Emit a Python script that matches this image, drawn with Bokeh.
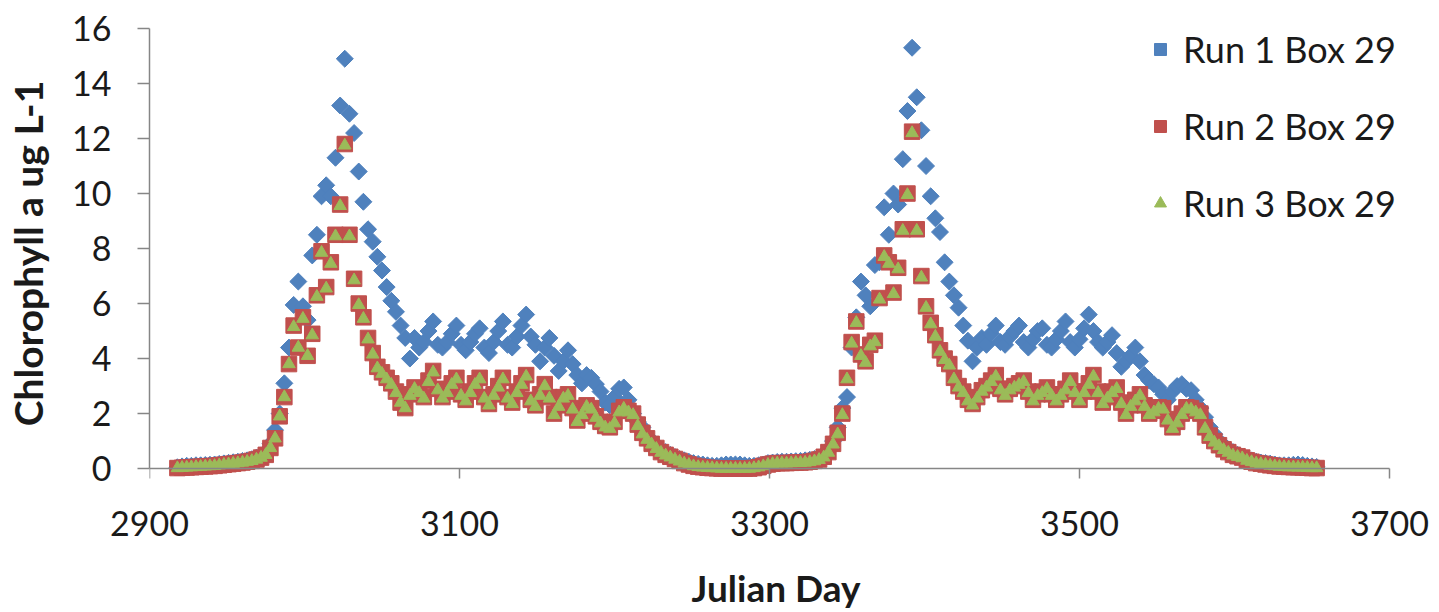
import math
from bokeh.plotting import figure
from bokeh.models import Range1d, Legend, LegendItem, LinearAxis, FixedTicker
from bokeh.embed import file_html
from bokeh.resources import INLINE

# sampling grid (Julian day, every 3 days)
days = list(range(2918, 3656, 3))

run1_box29 = [
    0.05, 0.08, 0.10, 0.10, 0.12, 0.12, 0.13, 0.14, 0.15, 0.17,   # 2918
    0.19, 0.21, 0.23, 0.25, 0.28, 0.30, 0.34, 0.40, 0.48, 0.60,   # 2948
    0.90, 1.40, 2.00, 3.10, 4.40, 5.95, 6.80, 5.90, 5.40, 7.75,   # 2978
    8.50, 9.90, 10.3, 9.90, 11.3, 13.2, 14.9, 12.9, 12.2, 10.8,   # 3008
    9.70, 8.70, 8.25, 7.70, 7.20, 6.60, 6.10, 5.70, 5.20, 4.75,   # 3038
    4.00, 4.75, 4.40, 4.60, 5.00, 5.35, 4.50, 4.40, 4.60, 4.90,   # 3068
    5.20, 4.50, 4.30, 4.60, 4.90, 5.10, 4.40, 4.20, 4.60, 5.00,   # 3098
    5.35, 4.50, 4.40, 4.80, 5.20, 5.60, 4.80, 4.50, 3.90, 4.40,   # 3128
    4.75, 4.10, 3.55, 3.90, 4.30, 3.80, 3.40, 3.10, 3.40, 3.30,   # 3158
    3.07, 2.80, 2.40, 2.30, 2.60, 2.90, 2.95, 2.50, 2.00, 1.70,   # 3188
    1.50, 1.20, 1.00, 0.85, 0.70, 0.60, 0.50, 0.42, 0.35, 0.30,   # 3218
    0.25, 0.20, 0.17, 0.15, 0.12, 0.10, 0.10, 0.12, 0.15, 0.15,   # 3248
    0.15, 0.15, 0.12, 0.10, 0.10, 0.12, 0.15, 0.20, 0.22, 0.24,   # 3278
    0.25, 0.25, 0.26, 0.27, 0.28, 0.30, 0.32, 0.35, 0.40, 0.50,   # 3308
    0.70, 1.00, 1.50, 2.20, 2.60, 4.40, 5.50, 6.80, 6.30, 5.90,   # 3338
    7.40, 7.50, 9.50, 8.50, 10.0, 9.60, 11.25, 13.0, 15.3, 13.5,  # 3368
    12.3, 11.0, 9.90, 9.10, 8.60, 7.50, 6.80, 6.30, 5.85, 5.20,   # 3398
    4.65, 3.90, 4.40, 4.75, 4.50, 4.90, 5.20, 4.60, 4.50, 4.80,   # 3428
    5.00, 5.20, 4.60, 4.40, 4.70, 5.00, 5.10, 4.50, 4.40, 4.70,   # 3458
    5.00, 5.35, 4.60, 4.40, 4.70, 5.10, 5.60, 5.00, 4.60, 4.40,   # 3488
    4.60, 4.85, 4.20, 3.70, 3.90, 4.10, 4.40, 3.90, 3.40, 3.20,   # 3518
    3.07, 2.95, 2.70, 2.50, 2.80, 3.00, 3.07, 2.90, 2.85, 2.50,   # 3548
    2.20, 1.87, 1.50, 1.25, 1.00, 0.85, 0.70, 0.60, 0.50, 0.42,   # 3578
    0.35, 0.30, 0.25, 0.22, 0.20, 0.18, 0.15, 0.12, 0.12, 0.12,   # 3608
    0.14, 0.15, 0.13, 0.10, 0.08, 0.06,                           # 3638
]

run2_box29 = [
    0.02, 0.03, 0.04, 0.05, 0.06, 0.07, 0.08, 0.09, 0.10, 0.12,   # 2918
    0.14, 0.16, 0.18, 0.20, 0.22, 0.25, 0.28, 0.33, 0.40, 0.50,   # 2948
    0.75, 1.10, 1.90, 2.60, 3.80, 5.20, 4.40, 5.50, 4.10, 4.90,   # 2978
    6.30, 7.90, 6.60, 7.50, 8.50, 9.60, 11.8, 8.50, 6.90, 6.00,   # 3008
    5.50, 4.75, 4.20, 3.70, 3.50, 3.30, 3.10, 2.80, 2.40, 2.20,   # 3038
    2.70, 2.95, 2.80, 2.60, 3.20, 3.55, 2.90, 2.60, 2.80, 3.10,   # 3068
    3.30, 2.70, 2.50, 2.80, 3.10, 3.30, 2.60, 2.35, 2.70, 3.00,   # 3098
    3.30, 2.60, 2.40, 2.80, 3.10, 3.40, 2.50, 2.30, 2.70, 3.07,   # 3128
    2.60, 2.00, 2.30, 2.60, 2.70, 2.20, 1.75, 2.00, 2.30, 2.20,   # 3158
    1.90, 1.70, 1.55, 1.50, 1.70, 2.10, 2.23, 2.10, 2.00, 1.60,   # 3188
    1.30, 1.10, 0.90, 0.75, 0.60, 0.50, 0.43, 0.35, 0.28, 0.20,   # 3218
    0.15, 0.10, 0.07, 0.05, 0.03, 0.02, 0.01, 0.00, 0.00, 0.00,   # 3248
    0.00, 0.00, 0.00, 0.00, 0.02, 0.05, 0.10, 0.15, 0.18, 0.20,   # 3278
    0.20, 0.20, 0.21, 0.22, 0.22, 0.23, 0.25, 0.28, 0.33, 0.43,   # 3308
    0.60, 0.90, 1.30, 2.00, 3.30, 4.60, 5.35, 4.15, 3.90, 4.50,   # 3338
    4.65, 6.20, 7.75, 7.50, 6.40, 7.30, 8.70, 10.0, 12.25, 8.70,  # 3368
    7.00, 5.90, 5.30, 4.85, 4.30, 4.00, 3.80, 3.30, 3.00, 2.80,   # 3398
    2.50, 2.35, 2.60, 2.85, 3.00, 3.20, 3.40, 2.90, 2.70, 2.90,   # 3428
    3.00, 3.10, 3.20, 2.80, 2.50, 2.70, 2.80, 2.95, 2.70, 2.50,   # 3458
    2.70, 2.90, 3.20, 2.80, 2.50, 2.80, 3.10, 3.40, 2.80, 2.40,   # 3488
    2.60, 2.80, 2.95, 2.40, 2.00, 2.30, 2.50, 2.70, 2.30, 2.00,   # 3518
    2.10, 2.23, 2.20, 1.80, 1.50, 1.70, 2.00, 2.23, 2.20, 2.10,   # 3548
    2.00, 1.50, 1.20, 1.00, 0.85, 0.70, 0.60, 0.50, 0.45, 0.40,   # 3578
    0.30, 0.25, 0.20, 0.18, 0.15, 0.12, 0.10, 0.08, 0.07, 0.06,   # 3608
    0.05, 0.05, 0.04, 0.03, 0.02, 0.02,                           # 3638
]

run3_box29 = [
    0.02, 0.03, 0.04, 0.05, 0.06, 0.07, 0.08, 0.09, 0.10, 0.12,   # 2918
    0.14, 0.16, 0.18, 0.20, 0.22, 0.25, 0.28, 0.33, 0.40, 0.50,   # 2948
    0.75, 1.10, 1.90, 2.60, 3.80, 5.15, 4.40, 5.45, 4.10, 4.85,   # 2978
    6.25, 7.85, 6.55, 7.45, 8.45, 9.55, 11.75, 8.45, 6.85, 5.95,  # 3008
    5.45, 4.70, 4.15, 3.65, 3.45, 3.25, 3.05, 2.75, 2.40, 2.20,   # 3038
    2.65, 2.90, 2.75, 2.55, 3.15, 3.50, 2.85, 2.55, 2.75, 3.05,   # 3068
    3.25, 2.65, 2.45, 2.75, 3.05, 3.25, 2.55, 2.30, 2.65, 2.95,   # 3098
    3.25, 2.55, 2.35, 2.75, 3.05, 3.35, 2.45, 2.25, 2.65, 3.00,   # 3128
    2.55, 1.95, 2.25, 2.55, 2.65, 2.15, 1.70, 1.95, 2.25, 2.15,   # 3158
    1.85, 1.65, 1.50, 1.45, 1.65, 2.05, 2.18, 2.05, 1.95, 1.55,   # 3188
    1.25, 1.05, 0.88, 0.72, 0.58, 0.48, 0.41, 0.33, 0.26, 0.19,   # 3218
    0.14, 0.09, 0.06, 0.04, 0.03, 0.02, 0.01, 0.00, 0.00, 0.00,   # 3248
    0.00, 0.00, 0.00, 0.00, 0.02, 0.05, 0.09, 0.14, 0.17, 0.19,   # 3278
    0.19, 0.19, 0.20, 0.21, 0.21, 0.22, 0.24, 0.27, 0.32, 0.41,   # 3308
    0.58, 0.88, 1.25, 1.95, 3.25, 4.55, 5.30, 4.10, 3.85, 4.45,   # 3338
    4.60, 6.15, 7.70, 7.45, 6.35, 7.25, 8.65, 9.95, 12.2, 8.65,   # 3368
    6.95, 5.85, 5.25, 4.80, 4.25, 3.95, 3.75, 3.25, 2.95, 2.75,   # 3398
    2.45, 2.30, 2.55, 2.80, 2.95, 3.15, 3.35, 2.85, 2.65, 2.85,   # 3428
    2.95, 3.05, 3.15, 2.75, 2.45, 2.65, 2.75, 2.90, 2.65, 2.45,   # 3458
    2.65, 2.85, 3.15, 2.75, 2.45, 2.75, 3.05, 3.35, 2.75, 2.35,   # 3488
    2.55, 2.75, 2.90, 2.35, 1.95, 2.25, 2.45, 2.65, 2.25, 1.95,   # 3518
    2.05, 2.18, 2.15, 1.75, 1.45, 1.65, 1.95, 2.18, 2.15, 2.05,   # 3548
    1.95, 1.45, 1.15, 0.95, 0.82, 0.68, 0.58, 0.48, 0.43, 0.38,   # 3578
    0.29, 0.24, 0.19, 0.17, 0.14, 0.11, 0.09, 0.07, 0.06, 0.05,   # 3608
    0.05, 0.04, 0.04, 0.03, 0.02, 0.02,                           # 3638
]

series_names = ["Run 1 Box 29", "Run 2 Box 29", "Run 3 Box 29"]
x_ticks = [2900, 3100, 3300, 3500, 3700]
y_ticks = [0, 2, 4, 6, 8, 10, 12, 14, 16]

BLUE = "#4F81BD"
RED = "#C0504D"
GREEN = "#9BBB59"
AXIS = "#868686"
TEXT = "#1a1a1a"
FONT = "Lato"

# frame: x 2900 -> px 149, 3700 -> px 1389 ; y 16 -> px 28, 0 -> px 472
p = figure(width=1439, height=612, output_backend="svg", toolbar_location=None,
           x_range=Range1d(2900, 3708.4), y_range=Range1d(-0.36, 16),
           x_axis_location=None, y_axis_location=None,
           min_border_left=149, min_border_right=37, min_border_top=28,
           min_border_bottom=130)
p.grid.visible = False
p.outline_line_color = None
p.background_fill_color = "white"
p.border_fill_color = "white"

# x axis line and ticks at y = 0 (ticks hang below the line); no labels here
xline = LinearAxis(ticker=FixedTicker(ticks=x_ticks), fixed_location=0,
                   bounds=(2900, 3700))
xline.axis_line_color = AXIS
xline.axis_line_width = 1.5
xline.major_tick_line_color = AXIS
xline.major_tick_line_width = 1.5
xline.major_tick_in = 13
xline.major_tick_out = 0
xline.minor_tick_line_color = None
xline.major_label_text_color = None
xline.major_label_text_font_size = "8px"
xline.major_label_standoff = 0
p.add_layout(xline, "above")

# x tick labels and title
xlab = LinearAxis(ticker=FixedTicker(ticks=x_ticks), axis_label="Julian Day")
xlab.axis_line_color = None
xlab.major_tick_line_color = None
xlab.minor_tick_line_color = None
xlab.major_tick_in = 0
xlab.major_tick_out = 0
xlab.major_label_standoff = 32
xlab.major_label_text_font = FONT
xlab.major_label_text_font_size = "34px"
xlab.major_label_text_color = TEXT
xlab.axis_label_standoff = 26
xlab.axis_label_text_font = FONT
xlab.axis_label_text_font_size = "37px"
xlab.axis_label_text_font_style = "bold"
xlab.axis_label_text_color = TEXT
p.add_layout(xlab, "below")

yaxis = LinearAxis(ticker=FixedTicker(ticks=y_ticks), axis_label="Chlorophyll a ug L-1",
                   bounds=(0, 16))
yaxis.axis_line_color = AXIS
yaxis.axis_line_width = 1.5
yaxis.major_tick_line_color = AXIS
yaxis.major_tick_line_width = 1.5
yaxis.major_tick_in = 0
yaxis.major_tick_out = 12
yaxis.minor_tick_line_color = None
yaxis.major_label_standoff = 26
yaxis.major_label_text_font = FONT
yaxis.major_label_text_font_size = "34px"
yaxis.major_label_text_color = TEXT
yaxis.axis_label_standoff = 18
yaxis.axis_label_text_font = FONT
yaxis.axis_label_text_font_size = "39px"
yaxis.axis_label_text_font_style = "bold"
yaxis.axis_label_text_color = TEXT
p.add_layout(yaxis, "left")

r1 = p.scatter(days, run1_box29, marker="square", angle=math.pi / 4, size=12,
               fill_color=BLUE, line_color=BLUE)
r2 = p.scatter(days, run2_box29, marker="square", size=15.5,
               fill_color=RED, line_color=RED)
r3 = p.scatter(days, run3_box29, marker="triangle", size=12.5,
               fill_color=GREEN, line_color=GREEN)

legend = Legend(items=[LegendItem(label=series_names[0], renderers=[r1]),
                       LegendItem(label=series_names[1], renderers=[r2]),
                       LegendItem(label=series_names[2], renderers=[r3])],
                location=(996, 253))
legend.border_line_color = None
legend.background_fill_alpha = 0
legend.padding = 0
legend.margin = 0
legend.glyph_width = 30
legend.glyph_height = 44
legend.label_height = 44
legend.spacing = 33
legend.label_standoff = 8
legend.label_text_font = FONT
legend.label_text_font_size = "36px"
legend.label_text_color = TEXT
p.add_layout(legend, "center")

open("out.html", "w").write(file_html(p, INLINE))
